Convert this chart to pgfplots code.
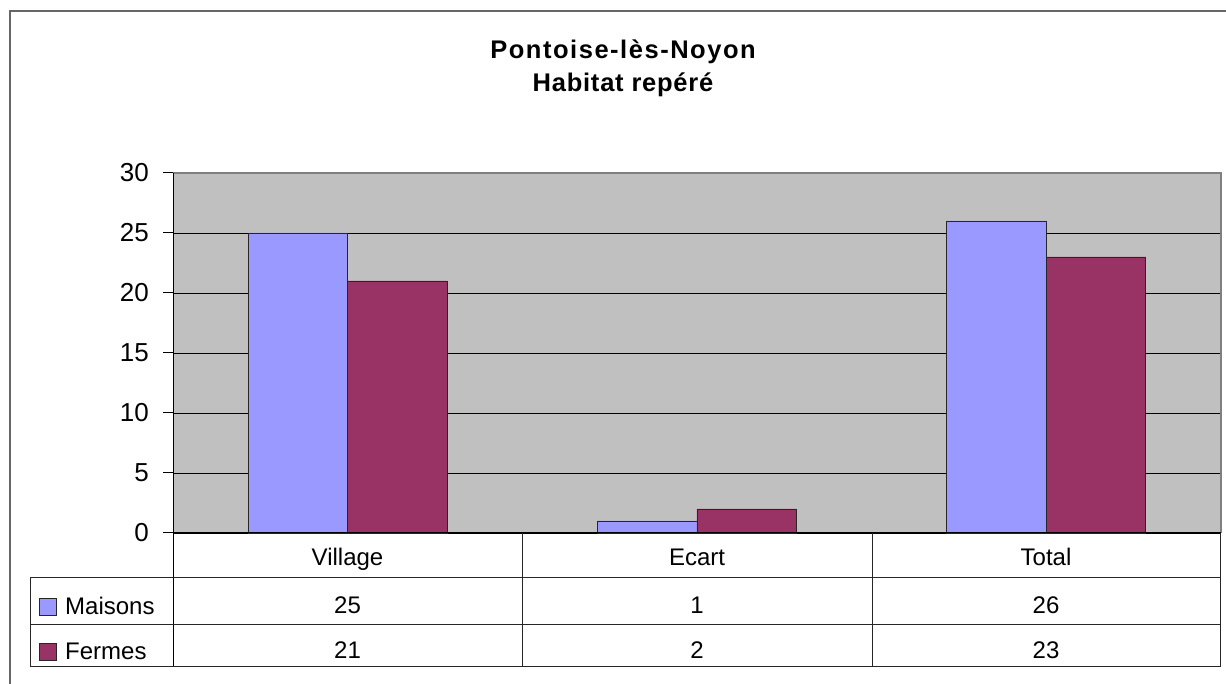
\documentclass[border=0pt]{standalone}
\usepackage{pgfplots}
\pgfplotsset{compat=1.18}
\usepackage{fontspec}
\setmainfont{Liberation Sans}
\definecolor{maisons}{HTML}{9999FF}
\definecolor{fermes}{HTML}{993366}
\definecolor{plotbg}{HTML}{C0C0C0}
\begin{document}
\begin{tikzpicture}[x=1pt,y=1pt]
\useasboundingbox (0,0) rectangle (1226,684);
\fill[white] (0,0) rectangle (1226,684);
\draw[line width=2.2pt, draw=black!60] (10,-2) -- (10,673) -- (1228,673);
\node[font=\fontsize{25.5}{30}\selectfont\bfseries\addfontfeature{LetterSpace=6}, anchor=base, inner sep=0pt] at (623,625) {Pontoise-lès-Noyon};
\node[font=\fontsize{25.5}{30}\selectfont\bfseries\addfontfeature{LetterSpace=3}, anchor=base, inner sep=0pt] at (623,592.5) {Habitat repéré};
\begin{axis}[at={(173pt,151pt)}, anchor=south west, scale only axis,
  width=1048pt, height=360pt,
  xmin=0, xmax=3, ymin=0, ymax=30,
  ytick={0,5,...,30}, xtick=\empty,
  ymajorgrids, grid style={black, line width=0.8pt},
  axis background/.style={fill=plotbg},
  axis line style={draw=black!50, line width=1pt},
  tick style={black, line width=1pt},
  major tick length=10pt, tick align=outside, ytick pos=left,
  yticklabel style={font=\fontsize{26}{30}\selectfont, anchor=east, inner sep=0pt, xshift=-14pt},
  /pgf/number format/assume math mode=true,
  clip=false]
\addplot[ybar, bar width=99.5pt, bar shift=-49.75pt, fill=maisons, draw=black!85, line width=0.8pt]
  coordinates {(0.5,25) (1.5,1) (2.5,26)};
\addplot[ybar, bar width=99.5pt, bar shift=49.75pt, fill=fermes, draw=black!85, line width=0.8pt]
  coordinates {(0.5,21) (1.5,2) (2.5,23)};
\end{axis}
% axis lines and data table
\draw[black!50, line width=1.2pt] (173,511) -- (1221,511) -- (1221,151);
\draw[black, line width=1pt] (173,511) -- (173,17);
\draw[black, line width=1pt] (173,151) -- (1221,151);
\draw[black!85, line width=1pt] (522,151) -- (522,17);
\draw[black!85, line width=1pt] (872,151) -- (872,17);
\draw[black!85, line width=1pt] (1220,151) -- (1220,17);
\draw[black!85, line width=1pt] (30,106) -- (1220,106);
\draw[black!85, line width=1pt] (30,59) -- (1220,59);
\draw[black!85, line width=1pt] (30,17) -- (1220,17);
\draw[black!85, line width=1pt] (30,106) -- (30,17);
\begin{scope}[every node/.style={font=\fontsize{24}{28}\selectfont, anchor=base, inner sep=0pt}]
\node at (347.5,118) {Village};
\node at (697,118) {Ecart};
\node at (1046,118) {Total};
\node at (347.5,70) {25};
\node at (697,70) {1};
\node at (1046,70) {26};
\node at (347.5,25) {21};
\node at (697,25) {2};
\node at (1046,25) {23};
\node[anchor=base west] at (65,69) {Maisons};
\node[anchor=base west] at (65,24) {Fermes};
\end{scope}
\draw[fill=maisons, draw=black!85, line width=0.8pt] (39,69) rectangle (56,86);
\draw[fill=fermes, draw=black!85, line width=0.8pt] (39,24) rectangle (56,41);
\end{tikzpicture}
\end{document}
